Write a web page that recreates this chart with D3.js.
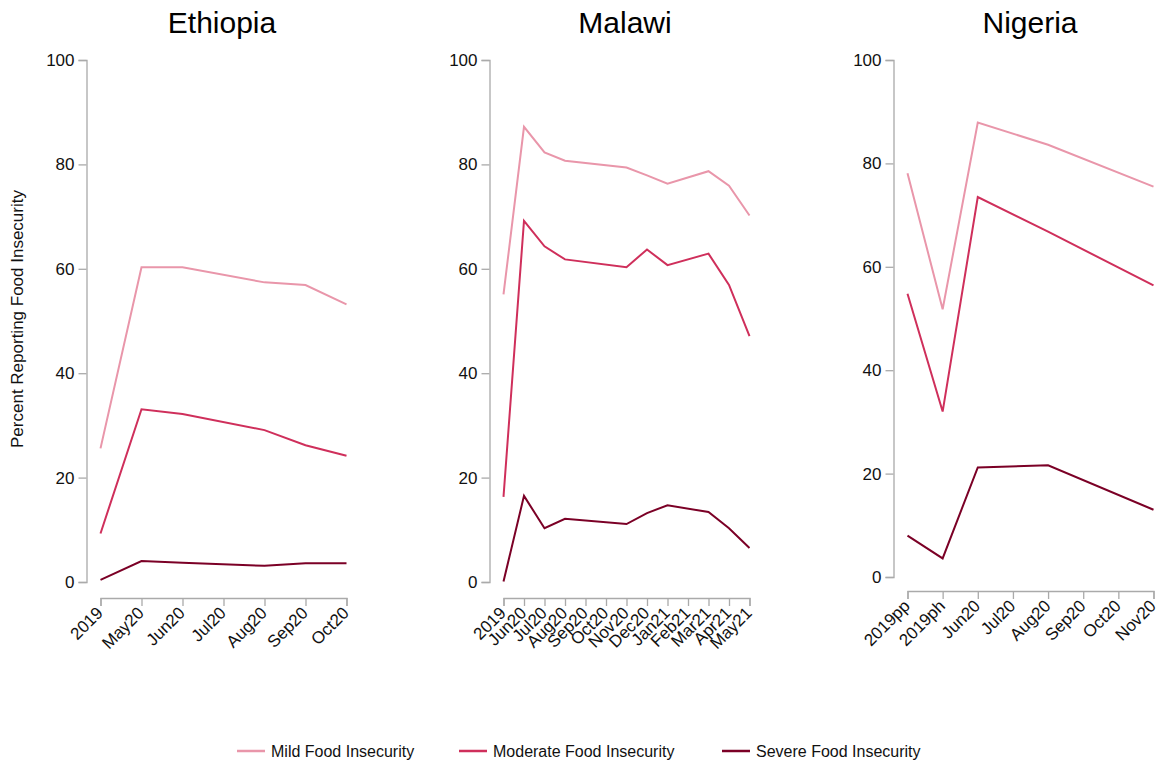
<!DOCTYPE html>
<html><head><meta charset="utf-8">
<script src="https://cdn.jsdelivr.net/npm/d3@7"></script>
<style>
body{margin:0;background:#fff;font-family:Arial,"Liberation Sans",sans-serif;}
.axis path,.axis line{stroke:#aaa;stroke-width:1.3;}
.axis text{font-size:17px;fill:#111;font-family:Arial,"Liberation Sans",sans-serif;}
</style></head>
<body><svg id="c" width="1160" height="763"></svg>
<script>
const seriesNames = ["Mild Food Insecurity","Moderate Food Insecurity","Severe Food Insecurity"];
const seriesColors = ["#e996aa","#cf2f5b","#7b0026"];

const ethiopiaCats = ["2019","May20","Jun20","Jul20","Aug20","Sep20","Oct20"];
const ethiopiaMild = [25.6,60.3,60.3,null,57.4,56.9,53.2];
const ethiopiaModerate = [9.3,33.1,32.2,null,29.1,26.2,24.2];
const ethiopiaSevere = [0.4,4.0,3.7,null,3.1,3.6,3.6];

const malawiCats = ["2019","Jun20","Jul20","Aug20","Sep20","Oct20","Nov20","Dec20","Jan21","Feb21","Mar21","Apr21","May21"];
const malawiMild = [55.1,87.2,82.3,80.7,null,null,79.4,77.9,76.3,null,78.7,75.9,70.2];
const malawiModerate = [16.3,69.2,64.3,61.8,null,null,60.3,63.7,60.7,null,62.9,56.9,47.1];
const malawiSevere = [0.1,16.5,10.3,12.1,null,null,11.1,13.2,14.7,null,13.4,10.3,6.5];

const nigeriaCats = ["2019pp","2019ph","Jun20","Jul20","Aug20","Sep20","Oct20","Nov20"];
const nigeriaMild = [78.1,51.8,87.9,null,83.6,null,null,75.5];
const nigeriaModerate = [54.8,32.0,73.5,null,66.8,null,null,56.4];
const nigeriaSevere = [8.0,3.6,21.2,null,21.6,null,null,13.0];

const yTicks = [0,20,40,60,80,100];

const panels = [
  {title:"Ethiopia", cats:ethiopiaCats, series:[ethiopiaMild,ethiopiaModerate,ethiopiaSevere], ax:86.5, y0:582, y1:60, xAxisY:598, titleX:222},
  {title:"Malawi", cats:malawiCats, series:[malawiMild,malawiModerate,malawiSevere], ax:489.5, y0:582, y1:60, xAxisY:598, titleX:625},
  {title:"Nigeria", cats:nigeriaCats, series:[nigeriaMild,nigeriaModerate,nigeriaSevere], ax:893.5, y0:577, y1:60, xAxisY:591, titleX:1030}
];

const svg = d3.select("#c");

panels.forEach(p=>{
  const g = svg.append("g");
  const x = d3.scalePoint().domain(p.cats).range([p.ax+14, p.ax+260]);
  const y = d3.scaleLinear().domain([0,100]).range([p.y0,p.y1]);

  g.append("text").attr("x",p.titleX).attr("y",33).attr("text-anchor","middle")
    .attr("font-size",30).attr("fill","#000").text(p.title);

  g.append("g").attr("class","axis").attr("transform",`translate(${p.ax},0)`)
    .call(d3.axisLeft(y).tickValues(yTicks).tickSize(8).tickPadding(4).tickFormat(d3.format("d")));

  const xa = g.append("g").attr("class","axis").attr("transform",`translate(0,${p.xAxisY})`)
    .call(d3.axisBottom(x).tickSize(8).tickSizeOuter(8));
  xa.selectAll("text").attr("text-anchor","end").attr("x",0).attr("y",0).attr("dy",0)
    .attr("transform","translate(3,16) rotate(-45)");

  const line = d3.line().x(d=>x(d[0])).y(d=>y(d[1]));
  p.series.forEach((vals,i)=>{
    const pts = p.cats.map((c,j)=>[c,vals[j]]).filter(d=>d[1]!==null);
    g.append("path").datum(pts).attr("fill","none").attr("stroke",seriesColors[i])
      .attr("stroke-width",2).attr("d",line);
  });
});

// y label
svg.append("text").attr("transform","translate(23,319) rotate(-90)").attr("text-anchor","middle")
  .attr("font-size",17).attr("fill","#111").text("Percent Reporting Food Insecurity");

// legend
const legX = [237,459,722];
seriesNames.forEach((n,i)=>{
  const lg = svg.append("g").attr("transform",`translate(${legX[i]},751)`);
  lg.append("line").attr("x1",0).attr("x2",28).attr("y1",0).attr("y2",0)
    .attr("stroke",seriesColors[i]).attr("stroke-width",2.5);
  lg.append("text").attr("x",34).attr("y",6).attr("font-size",16).attr("fill","#111").text(n);
});
</script></body></html>
